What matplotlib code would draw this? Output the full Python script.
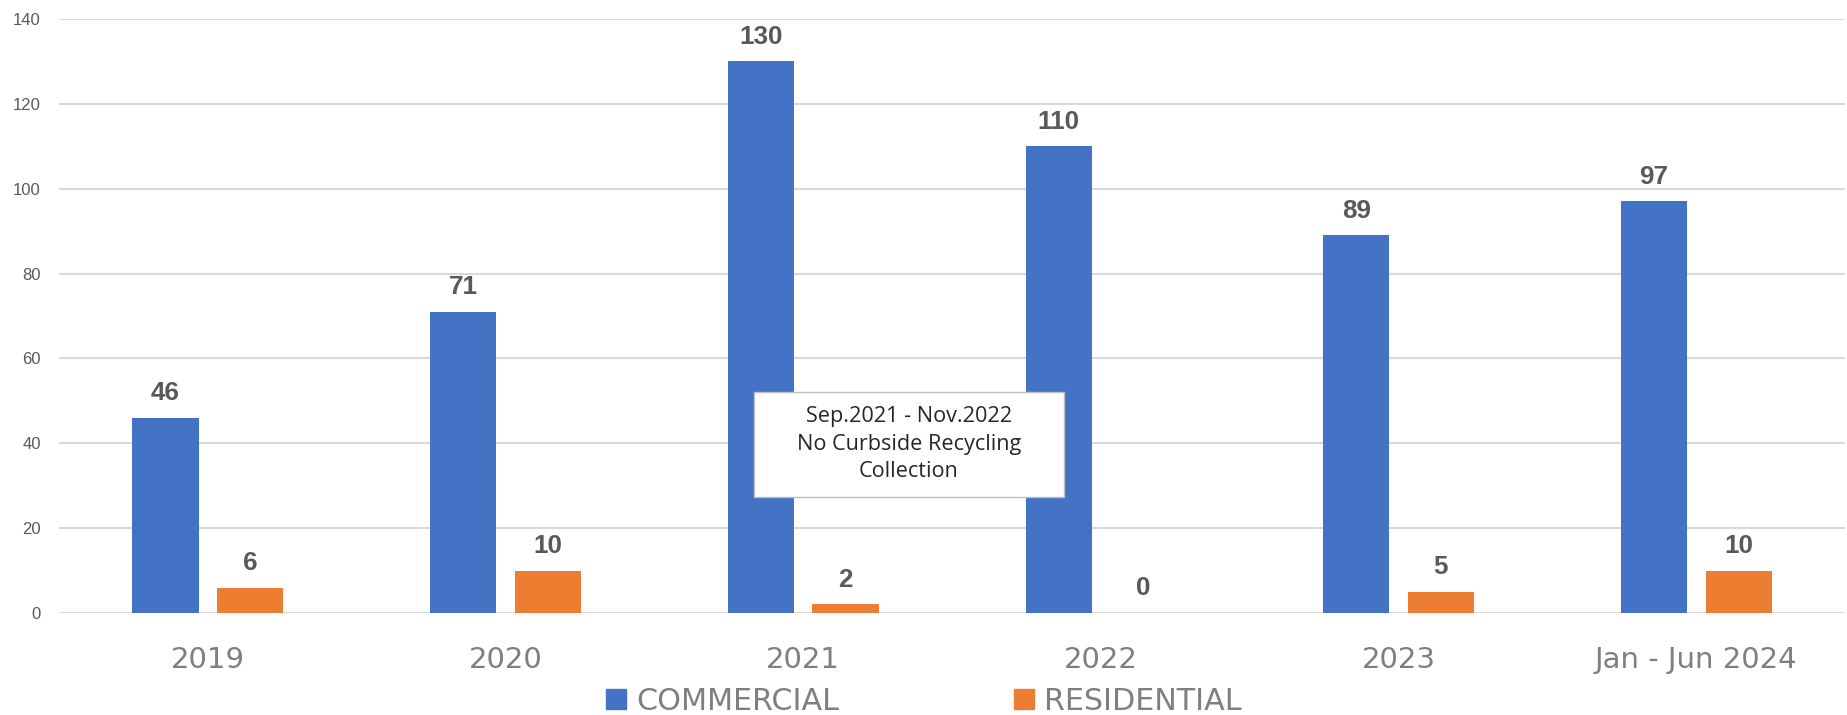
import numpy as np
import matplotlib.pyplot as plt
from matplotlib.patches import Patch, Rectangle

categories = ['2019', '2020', '2021', '2022', '2023', 'Jan - Jun 2024']
commercial = [46, 71, 130, 110, 89, 97]
residential = [6, 10, 2, 0, 5, 10]
note_text = 'Sep.2021 - Nov.2022\nNo Curbside Recycling\nCollection'

BLUE = '#4472C4'
ORANGE = '#ED7D31'
GRAY_LABEL = '#595959'
GRAY_AXIS = '#7F7F7F'

fig = plt.figure(figsize=(18.47, 7.15), dpi=100)
ax = fig.add_axes([0.0319, 0.1427, 0.9671, 0.8307])

x = np.arange(len(categories))
w = 0.222
off = 0.142
b1 = ax.bar(x - off, commercial, w, color=BLUE, zorder=2)
b2 = ax.bar(x + off, residential, w, color=ORANGE, zorder=2)

# value labels above each bar
for bars in (b1, b2):
    ax.bar_label(bars, padding=9, fontsize=18.7, fontweight='bold',
                 color=GRAY_LABEL, family='Liberation Sans')

ax.set_xlim(-0.5, len(categories) - 0.5)
ax.set_ylim(0, 140)
ax.set_yticks(np.arange(0, 141, 20))
ax.grid(axis='y', color='#D9D9D9', linewidth=1.5, zorder=0)
ax.set_axisbelow(True)
for s in ax.spines.values():
    s.set_visible(False)

ax.set_xticks(x)
ax.set_xticklabels(categories, fontsize=21, color=GRAY_AXIS, family='DejaVu Sans')
ax.tick_params(axis='x', length=0, pad=24)
ax.tick_params(axis='y', length=0, pad=13, labelsize=12, labelcolor=GRAY_LABEL)
for t in ax.get_yticklabels():
    t.set_family('Liberation Sans')

# note box over 2021-2022
ax.add_patch(Rectangle((1.835, 27.3), 1.041, 24.9, facecolor='white',
                       edgecolor='#BFBFBF', linewidth=1, zorder=3))
ax.text(2.355, 39.8, note_text, ha='center', va='center', fontsize=15.6,
        family='Open Sans', color='#262626', linespacing=1.42, zorder=4)

handles = [Patch(color=BLUE, label='COMMERCIAL'), Patch(color=ORANGE, label='RESIDENTIAL')]
fig.legend(handles=handles, loc='center', bbox_to_anchor=(924 / 1847, 1 - 701 / 715),
           ncol=2, frameon=False, prop={'family': 'DejaVu Sans', 'size': 21.7},
           handlelength=0.67, handleheight=0.67, handletextpad=0.33,
           columnspacing=5.8, labelcolor=GRAY_AXIS, borderpad=0)

fig.savefig('out.png', dpi=100)
